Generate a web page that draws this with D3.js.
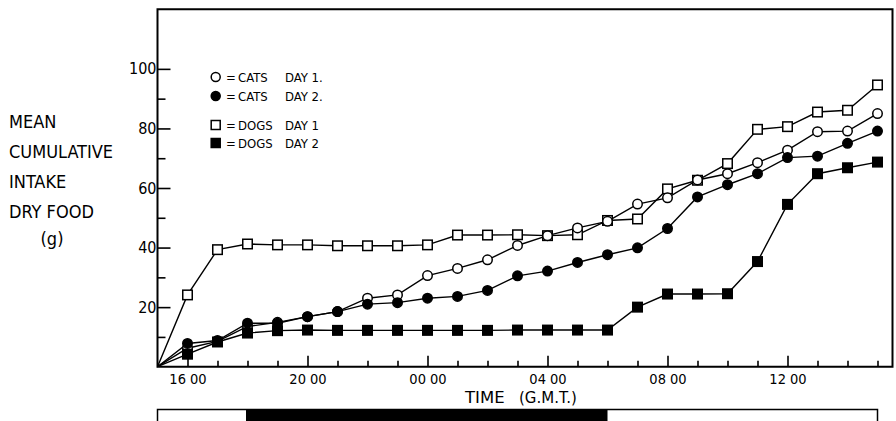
<!DOCTYPE html>
<html>
<head>
<meta charset="utf-8">
<script src="https://cdn.jsdelivr.net/npm/d3@7"></script>
<style>
  html, body { margin: 0; padding: 0; background: #fff; }
  svg { display: block; }
  text { font-family: 'Liberation Sans Narrow', 'DejaVu Sans Condensed', 'Arial Narrow', sans-serif; fill: #000; }
  text.wide { font-family: 'DejaVu Sans', sans-serif; }
</style>
</head>
<body>
<svg id="chart" width="896" height="421"></svg>
<script>
// Hourly readings, 15:00 on day one through 15:00 the next day (hours elapsed).
const hours = [0, 1, 2, 3, 4, 5, 6, 7, 8, 9, 10, 11, 12, 13, 14, 15, 16, 17, 18, 19, 20, 21, 22, 23, 24];

// Mean cumulative intake of dry food (g)
const catsDay1 = [0, 6.2, 8.5, 13.5, 14.9, 16.8, 18.5, 23.0, 24.1, 30.6, 33.0, 35.9, 40.7, 44.0, 46.6, 48.8, 54.6, 56.7, 62.7, 64.8, 68.5, 72.7, 78.9, 79.1, 85.0];
const catsDay2 = [0, 7.8, 8.8, 14.6, 14.6, 16.8, 18.5, 21.0, 21.5, 23.0, 23.6, 25.6, 30.5, 32.1, 35.0, 37.6, 39.9, 46.4, 57.0, 61.1, 64.8, 70.2, 70.7, 75.0, 79.1];
const dogsDay1 = [0, 24.1, 39.3, 41.2, 40.9, 40.9, 40.6, 40.6, 40.6, 40.9, 44.2, 44.2, 44.3, 44.0, 44.3, 49.1, 49.6, 59.7, 62.6, 68.2, 79.7, 80.6, 85.5, 86.1, 94.6];
const dogsDay2 = [0, 4.2, 8.3, 11.3, 12.1, 12.3, 12.2, 12.2, 12.2, 12.2, 12.2, 12.2, 12.3, 12.3, 12.3, 12.3, 20.0, 24.4, 24.4, 24.5, 35.3, 54.5, 64.8, 66.8, 68.7];

// Axis ticks
const xMajorTicks = [1, 5, 9, 13, 17, 21];
const xMajorLabels = ["16 00", "20 00", "00 00", "04 00", "08 00", "12 00"];
const xMinorTicks = [2, 3, 4, 6, 7, 8, 10, 11, 12, 14, 15, 16, 18, 19, 20, 22, 23, 24];
const yMajorTicks = [20, 40, 60, 80, 100];
const yMinorTicks = [10, 30, 50, 70, 90];

// Light / dark bar under the time axis (hours elapsed)
const barStart = 0, darkStart = 2.95, darkEnd = 15.0, barEnd = 24;

// Legend entries
const legendLabels = [["CATS", "DAY 1."], ["CATS", "DAY 2."], ["DOGS", "DAY 1"], ["DOGS", "DAY 2"]];

// Y axis title, one word group per line
const yTitleLines = ["MEAN", "CUMULATIVE", "INTAKE", "DRY FOOD"];
const yTitleUnit = "(g)";

const svg = d3.select("#chart");

const x = d3.scaleLinear().domain([0, 24.5]).range([157.5, 892.5]);
const y = d3.scaleLinear().domain([0, 120]).range([366.7, 9.3]);

// Frame
svg.append("path")
  .attr("d", `M${x(0)},${y(120)} L${x(0)},${y(0)} L${x(24.5)},${y(0)} L${x(24.5)},${y(120)} Z`)
  .attr("fill", "none")
  .attr("stroke", "#000")
  .attr("stroke-width", 2);

// X axis ticks (pointing into the plot)
const xMinorAxis = d3.axisBottom(x).tickValues(xMinorTicks).tickSize(-6).tickFormat("");
const xMajorAxis = d3.axisBottom(x).tickValues(xMajorTicks).tickSize(-11).tickPadding(7)
  .tickFormat((d, i) => xMajorLabels[i]);

const gxMinor = svg.append("g").attr("transform", `translate(0,${y(0)})`).call(xMinorAxis);
const gxMajor = svg.append("g").attr("transform", `translate(0,${y(0)})`).call(xMajorAxis);
[gxMinor, gxMajor].forEach(g => {
  g.select(".domain").remove();
  g.selectAll("line").attr("stroke", "#000").attr("stroke-width", 1.6);
});
gxMajor.selectAll("text").attr("font-size", 14.5).attr("fill", "#000");

// Y axis ticks (pointing into the plot)
const yMinorAxis = d3.axisLeft(y).tickValues(yMinorTicks).tickSize(-8).tickFormat("");
const yMajorAxis = d3.axisLeft(y).tickValues(yMajorTicks).tickSize(-13).tickPadding(1).tickFormat(d3.format("d"));
const gyMinor = svg.append("g").attr("transform", `translate(${x(0)},0)`).call(yMinorAxis);
const gyMajor = svg.append("g").attr("transform", `translate(${x(0)},0)`).call(yMajorAxis);
[gyMinor, gyMajor].forEach(g => {
  g.select(".domain").remove();
  g.selectAll("line").attr("stroke", "#000").attr("stroke-width", 1.6);
});
gyMajor.selectAll("text").attr("font-size", 16).attr("fill", "#000");

// X axis title
svg.append("text").attr("class", "wide").attr("x", 465).attr("y", 403).attr("font-size", 16.5).text("TIME");
svg.append("text").attr("class", "wide").attr("x", 519).attr("y", 403).attr("font-size", 15).text("(G.M.T.)");

// Y axis title
yTitleLines.forEach((t, i) => {
  svg.append("text").attr("x", 9).attr("y", 128 + i * 30).attr("font-size", 18).text(t);
});
svg.append("text").attr("x", 52).attr("y", 245).attr("text-anchor", "middle").attr("font-size", 18).text(yTitleUnit);

// Series
const series = [
  { values: dogsDay1, shape: "square", filled: false },
  { values: catsDay1, shape: "circle", filled: false },
  { values: catsDay2, shape: "circle", filled: true },
  { values: dogsDay2, shape: "square", filled: true }
];

const line = d3.line().x((d, i) => x(hours[i])).y(d => y(d));

const plot = svg.append("g");
series.forEach(s => {
  plot.append("path")
    .datum(s.values)
    .attr("fill", "none")
    .attr("stroke", "#000")
    .attr("stroke-width", 1.4)
    .attr("d", line);
});

function drawMarker(g, shape, filled, cx, cy, size) {
  if (shape === "circle") {
    g.append("circle")
      .attr("cx", cx).attr("cy", cy).attr("r", size / 2)
      .attr("fill", filled ? "#000" : "#fff")
      .attr("stroke", "#000").attr("stroke-width", 1.5);
  } else {
    g.append("rect")
      .attr("x", cx - size / 2).attr("y", cy - size / 2)
      .attr("width", size).attr("height", size)
      .attr("fill", filled ? "#000" : "#fff")
      .attr("stroke", "#000").attr("stroke-width", 1.5);
  }
}

series.forEach(s => {
  const g = plot.append("g");
  s.values.forEach((v, i) => {
    if (i === 0) return; // every series starts from the origin
    drawMarker(g, s.shape, s.filled, x(hours[i]), y(v), 9.5);
  });
});

// Legend
const legendSeries = [series[1], series[2], series[0], series[3]];
const legendRowsY = [77, 96, 125, 143];
const legend = svg.append("g");
legendSeries.forEach((s, i) => {
  const ly = legendRowsY[i];
  drawMarker(legend, s.shape, s.filled, 215.7, ly, 9);
  legend.append("text").attr("x", 226).attr("y", ly + 4.5).attr("font-size", 13).text("=");
  legend.append("text").attr("x", 238).attr("y", ly + 4.5).attr("font-size", 13).text(legendLabels[i][0]);
  legend.append("text").attr("x", 285).attr("y", ly + 4.5).attr("font-size", 13).text(legendLabels[i][1]);
});

// Light / dark bar
const bar = svg.append("g");
bar.append("rect")
  .attr("x", x(barStart)).attr("y", 409.5)
  .attr("width", x(barEnd) - x(barStart)).attr("height", 14)
  .attr("fill", "#fff").attr("stroke", "#000").attr("stroke-width", 1.5);
bar.append("rect")
  .attr("x", x(darkStart)).attr("y", 409.5)
  .attr("width", x(darkEnd) - x(darkStart)).attr("height", 14)
  .attr("fill", "#000");
</script>
</body>
</html>
